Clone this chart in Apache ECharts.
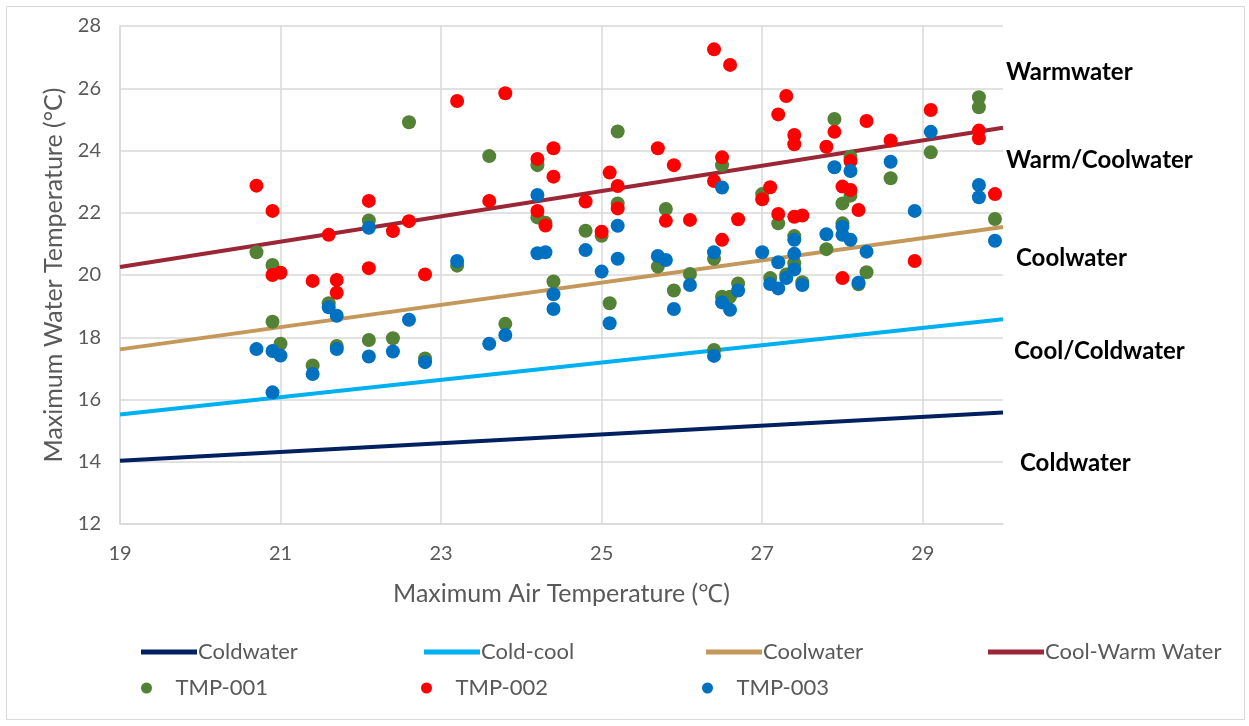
<!DOCTYPE html>
<html>
<head>
<meta charset="utf-8">
<script src="https://cdn.jsdelivr.net/npm/echarts@6/dist/echarts.min.js"></script>
<style>
  html, body { margin: 0; padding: 0; background: #ffffff; }
  #chart { width: 1249px; height: 726px; }
</style>
</head>
<body>
<div id="chart"></div>
<script>
// ---------- Data ----------
const xTicks = [19, 21, 23, 25, 27, 29];
const xMax = 30;
const yTicks = [12, 14, 16, 18, 20, 22, 24, 26, 28];

const lineX = [19, 30];
const coldwater = [14.03, 15.58];
const coldCool = [15.52, 18.58];
const coolwater = [17.61, 21.54];
const coolWarm = [20.26, 24.73];

const tmp001 = [
  [20.7, 20.73], [20.9, 20.32], [20.9, 18.5], [21.0, 17.79], [21.4, 17.09],
  [21.6, 19.09], [21.7, 17.72], [22.1, 21.75], [22.1, 17.91], [22.4, 17.97],
  [22.6, 24.91], [22.8, 17.32], [23.2, 20.30], [23.6, 23.82], [23.8, 18.43],
  [24.2, 23.53], [24.2, 21.85], [24.3, 21.68], [24.4, 19.79], [24.8, 21.42],
  [25.0, 21.26], [25.1, 19.09], [25.2, 24.61], [25.2, 22.30], [25.7, 20.27],
  [25.8, 22.12], [25.9, 19.50], [26.1, 20.03], [26.4, 20.52], [26.4, 17.59],
  [26.5, 23.53], [26.5, 19.30], [26.6, 19.30], [26.7, 19.73], [27.0, 22.60],
  [27.1, 19.90], [27.2, 21.66], [27.3, 20.02], [27.4, 21.25], [27.4, 20.38],
  [27.5, 19.77], [27.8, 20.83], [27.9, 25.01], [28.0, 22.30], [28.0, 21.66],
  [28.1, 23.80], [28.1, 22.55], [28.2, 19.70], [28.3, 20.09], [28.6, 23.11],
  [29.1, 23.94], [29.7, 25.71], [29.7, 25.39], [29.9, 21.80]
];
const tmp002 = [
  [20.7, 22.87], [20.9, 22.06], [20.9, 20.00], [21.0, 20.07], [21.4, 19.81],
  [21.6, 21.29], [21.7, 19.84], [21.7, 19.43], [22.1, 22.38], [22.1, 20.22],
  [22.4, 21.41], [22.6, 21.73], [22.8, 20.02], [23.2, 25.59], [23.6, 22.38],
  [23.8, 25.84], [24.2, 23.73], [24.2, 22.06], [24.3, 21.59], [24.4, 24.07],
  [24.4, 23.16], [24.8, 22.36], [25.0, 21.39], [25.1, 23.29], [25.2, 22.86],
  [25.2, 22.14], [25.7, 24.07], [25.8, 21.74], [25.9, 23.53], [26.1, 21.77],
  [26.4, 27.25], [26.4, 23.02], [26.5, 23.78], [26.5, 21.13], [26.6, 26.75],
  [26.7, 21.79], [27.0, 22.43], [27.1, 22.82], [27.2, 25.16], [27.2, 21.96],
  [27.3, 25.75], [27.4, 24.50], [27.4, 24.20], [27.4, 21.87], [27.5, 21.91],
  [27.8, 24.12], [27.9, 24.60], [28.0, 22.84], [28.0, 19.90], [28.1, 23.66],
  [28.1, 22.73], [28.2, 22.09], [28.3, 24.95], [28.6, 24.32], [28.9, 20.45],
  [29.1, 25.30], [29.7, 24.64], [29.7, 24.39], [29.9, 22.60]
];
const tmp003 = [
  [20.7, 17.62], [20.9, 17.56], [20.9, 16.23], [21.0, 17.41], [21.4, 16.82],
  [21.6, 18.96], [21.7, 18.69], [21.7, 17.62], [22.1, 21.52], [22.1, 17.38],
  [22.4, 17.54], [22.6, 18.56], [22.8, 17.20], [23.2, 20.45], [23.6, 17.79],
  [23.8, 18.07], [24.2, 22.57], [24.2, 20.70], [24.3, 20.73], [24.4, 19.38],
  [24.4, 18.91], [24.8, 20.80], [25.0, 20.11], [25.1, 18.45], [25.2, 21.58],
  [25.2, 20.52], [25.7, 20.61], [25.8, 20.48], [25.9, 18.91], [26.1, 19.68],
  [26.4, 20.73], [26.4, 17.40], [26.5, 22.81], [26.5, 19.12], [26.6, 18.88],
  [26.7, 19.50], [27.0, 20.73], [27.1, 19.71], [27.2, 20.41], [27.2, 19.57],
  [27.3, 19.90], [27.4, 21.13], [27.4, 20.68], [27.4, 20.18], [27.5, 19.68],
  [27.8, 21.31], [27.9, 23.46], [28.0, 21.55], [28.0, 21.29], [28.1, 23.34],
  [28.1, 21.13], [28.2, 19.75], [28.3, 20.75], [28.6, 23.64], [28.9, 22.06],
  [29.1, 24.60], [29.7, 22.89], [29.7, 22.50], [29.9, 21.10]
];

const zoneLabels = ['Warmwater', 'Warm/Coolwater', 'Coolwater', 'Cool/Coldwater', 'Coldwater'];

// ---------- Chart ----------
const FONT = 'Lato, "Liberation Sans", sans-serif';
const GREY = '#595959';
const chart = echarts.init(document.getElementById('chart'), null, { renderer: 'canvas' });

const pair = (ys) => lineX.map((x, i) => [x, ys[i]]);

const lineSeries = (name, ys, color) => ({
  name, type: 'line', data: pair(ys), symbol: 'none', silent: true,
  lineStyle: { color, width: 4 }, itemStyle: { color }, z: 2
});
const scatterSeries = (name, data, color) => ({
  name, type: 'scatter', data, symbol: 'circle', symbolSize: 14,
  itemStyle: { color, opacity: 1 }, z: 3
});

const legendPos = [141, 424, 706, 988];
const legendCommon = {
  itemWidth: 56, itemHeight: 5, itemGap: 0, padding: 0,
  textStyle: { fontFamily: FONT, fontSize: 22, color: GREY, padding: [0, 0, 0, -4] },
  selectedMode: false
};
const legends = [
  { data: [{ name: 'Coldwater', icon: 'rect' }], left: legendPos[0], top: 641 },
  { data: [{ name: 'Cold-cool', icon: 'rect' }], left: legendPos[1], top: 641 },
  { data: [{ name: 'Coolwater', icon: 'rect' }], left: legendPos[2], top: 641 },
  { data: [{ name: 'Cool-Warm Water', icon: 'rect' }], left: legendPos[3], top: 641 },
  { data: [{ name: 'TMP-001', icon: 'circle' }], left: legendPos[0], top: 677, itemHeight: 11 },
  { data: [{ name: 'TMP-002', icon: 'circle' }], left: legendPos[1] - 3, top: 677, itemHeight: 11 },
  { data: [{ name: 'TMP-003', icon: 'circle' }], left: legendPos[2] - 4, top: 677, itemHeight: 11 }
].map(l => Object.assign({}, legendCommon, l));

const zoneY = [72, 160, 258, 351, 463];
const zoneX = [1006, 1006, 1016, 1014, 1020];

const option = {
  backgroundColor: '#ffffff',
  animation: false,
  grid: { left: 120, right: 246, top: 26, bottom: 202, containLabel: false },
  xAxis: {
    type: 'value',
    min: xTicks[0], max: xMax, interval: xTicks[1] - xTicks[0],
    name: 'Maximum Air Temperature (℃)',
    nameLocation: 'middle', nameGap: 57,
    nameTextStyle: { fontFamily: FONT, fontSize: 25, color: GREY },
    axisLine: { show: true, lineStyle: { color: '#d9d9d9', width: 1.5 } },
    axisTick: { show: false },
    axisLabel: { fontFamily: FONT, fontSize: 20, color: GREY, margin: 20, showMaxLabel: false },
    splitLine: { show: true, showMaxLine: false, lineStyle: { color: '#d9d9d9', width: 1.5 } }
  },
  yAxis: {
    type: 'value',
    min: yTicks[0], max: yTicks[yTicks.length - 1], interval: yTicks[1] - yTicks[0],
    name: 'Maximum Water Temperature (°C)',
    nameLocation: 'middle', nameGap: 52,
    nameTextStyle: { fontFamily: FONT, fontSize: 25, color: GREY },
    axisLine: { show: true, lineStyle: { color: '#d9d9d9', width: 1.5 } },
    axisTick: { show: false },
    axisLabel: { fontFamily: FONT, fontSize: 20, color: GREY, margin: 19 },
    splitLine: { show: true, lineStyle: { color: '#d9d9d9', width: 1.5 } }
  },
  legend: legends,
  graphic: [
    {
      type: 'rect', silent: true, z: -1,
      shape: { x: 6.5, y: 6.5, width: 1238, height: 713 },
      style: { fill: 'none', stroke: '#d9d9d9', lineWidth: 1 }
    }
  ].concat(zoneLabels.map((t, i) => ({
    type: 'text', silent: true,
    x: zoneX[i], y: zoneY[i],
    style: { text: t, font: 'bold 24px ' + FONT, fill: '#000000', textVerticalAlign: 'middle', textAlign: 'left' }
  }))),
  series: [
    lineSeries('Coldwater', coldwater, '#002060'),
    lineSeries('Cold-cool', coldCool, '#00B0F0'),
    lineSeries('Coolwater', coolwater, '#C4985A'),
    lineSeries('Cool-Warm Water', coolWarm, '#9B2736'),
    scatterSeries('TMP-001', tmp001, '#538135'),
    scatterSeries('TMP-002', tmp002, '#FF0000'),
    scatterSeries('TMP-003', tmp003, '#0070C0')
  ]
};
chart.setOption(option);
</script>
</body>
</html>
